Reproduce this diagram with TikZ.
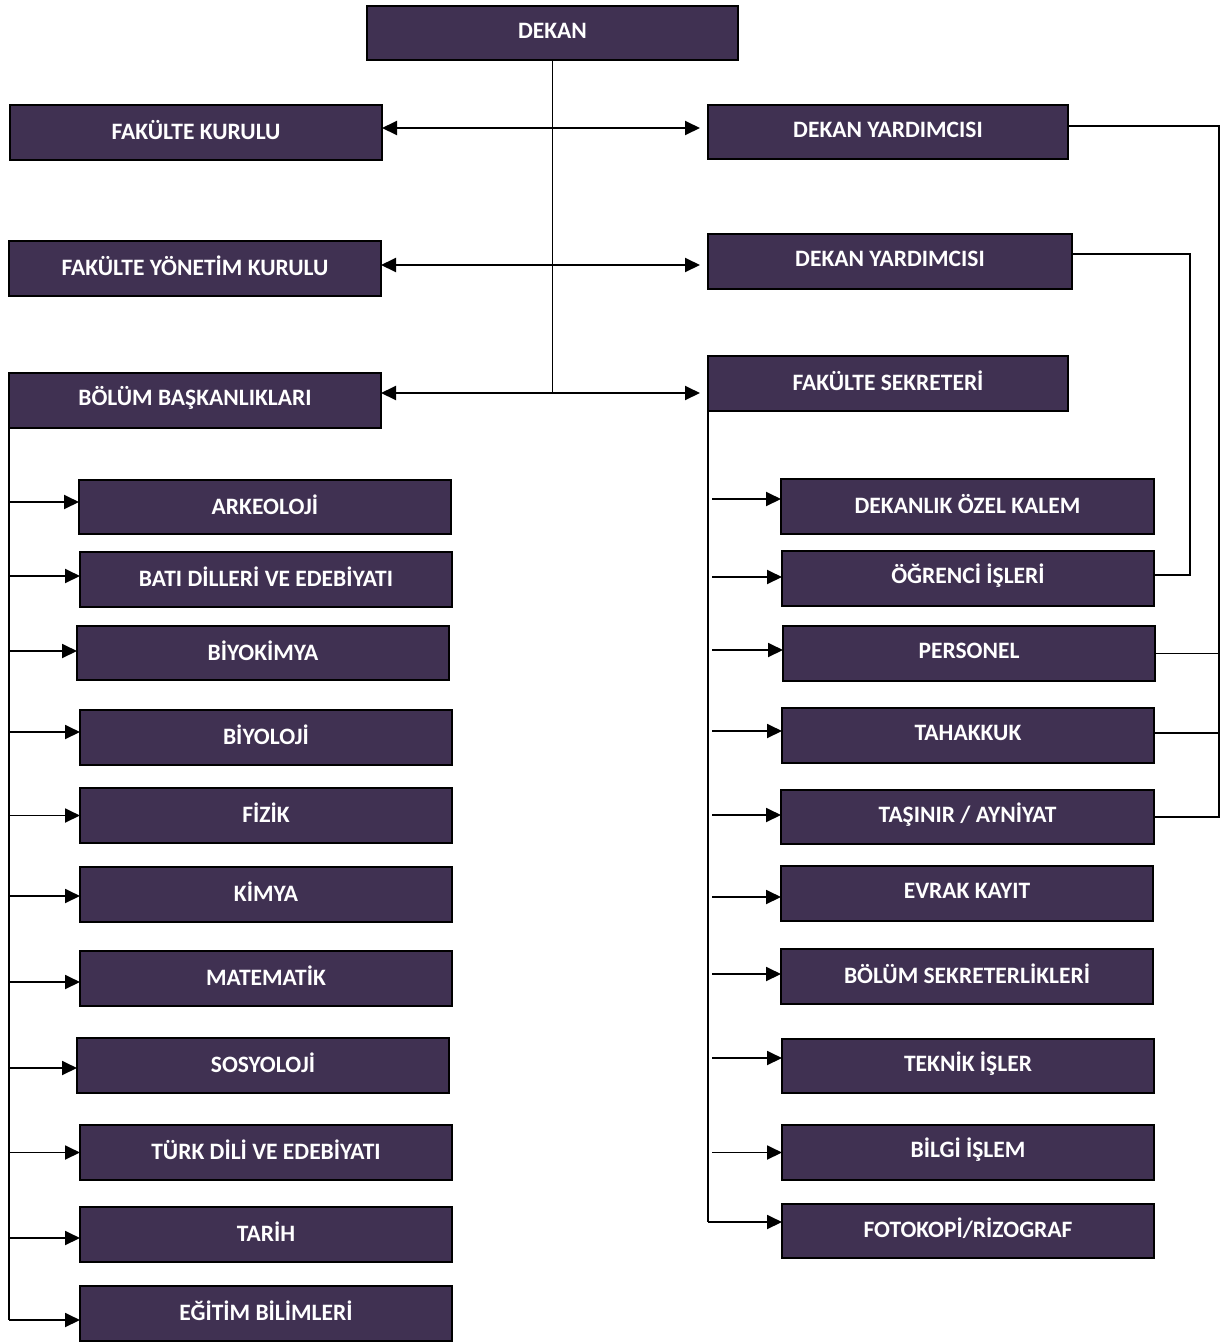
\documentclass[tikz,border=0pt]{standalone}
\usepackage{fontspec}
\setmainfont{Carlito}
\usetikzlibrary{arrows.meta,calc}
\definecolor{boxfill}{RGB}{64,49,82}
\tikzset{
  box/.style={draw=black, line width=2pt, fill=boxfill, text=white,
    font=\fontsize{23.5}{28}\selectfont\bfseries, inner sep=0pt, outer sep=0pt},
  conn/.style={line width=1.9pt, draw=black},
  arr/.style={conn, -{Triangle[length=15pt,width=14pt]}},
  darr/.style={conn, {Triangle[length=15pt,width=14pt]}-{Triangle[length=15pt,width=14pt]}}
}
\newcommand{\bx}[6]{\node[box, minimum width={#4pt-#2pt}, minimum height={#5pt-#3pt}] (#1) at ({(#2+#4)/2},{(#3+#5)/2}) {\raisebox{2.5pt}[\height][\depth]{#6}};}
\begin{document}
\begin{tikzpicture}[x=1pt,y=-1pt]
\useasboundingbox (0,0) rectangle (1232,1342);
% top
\bx{dekan}{367}{6}{738}{60}{DEKAN}
\bx{fk}{10}{105}{382}{160}{FAKÜLTE KURULU}
\bx{dy1}{708}{105}{1068}{159}{DEKAN YARDIMCISI}
\bx{fyk}{9}{241}{381}{296}{FAKÜLTE YÖNETİM KURULU}
\bx{dy2}{708}{234}{1072}{289}{DEKAN YARDIMCISI}
\bx{bolum}{9}{373}{381}{428}{BÖLÜM BAŞKANLIKLARI}
\bx{fs}{708}{356}{1068}{411}{FAKÜLTE SEKRETERİ}
% left list
\bx{ark}{79}{480}{451}{534}{ARKEOLOJİ}
\bx{bati}{80}{552}{452}{607}{BATI DİLLERİ VE EDEBİYATI}
\bx{biyok}{77}{626}{449}{680}{BİYOKİMYA}
\bx{biyo}{80}{710}{452}{765}{BİYOLOJİ}
\bx{fiz}{80}{788}{452}{843}{FİZİK}
\bx{kim}{80}{867}{452}{922}{KİMYA}
\bx{mat}{80}{951}{452}{1006}{MATEMATİK}
\bx{sos}{77}{1038}{449}{1093}{SOSYOLOJİ}
\bx{turk}{80}{1125}{452}{1180}{TÜRK DİLİ VE EDEBİYATI}
\bx{tar}{80}{1207}{452}{1262}{TARİH}
\bx{egi}{80}{1286}{452}{1341}{EĞİTİM BİLİMLERİ}
% right list
\bx{dok}{781}{479}{1154}{534}{DEKANLIK ÖZEL KALEM}
\bx{ogr}{782}{551}{1154}{606}{ÖĞRENCİ İŞLERİ}
\bx{per}{783}{626}{1155}{681}{PERSONEL}
\bx{tah}{782}{708}{1154}{763}{TAHAKKUK}
\bx{tas}{781}{790}{1154}{844}{TAŞINIR / AYNİYAT}
\bx{evr}{781}{866}{1153}{921}{EVRAK KAYIT}
\bx{bsek}{781}{949}{1153}{1004}{BÖLÜM SEKRETERLİKLERİ}
\bx{tek}{782}{1039}{1154}{1093}{TEKNİK İŞLER}
\bx{bil}{782}{1125}{1154}{1180}{BİLGİ İŞLEM}
\bx{foto}{782}{1204}{1154}{1258}{FOTOKOPİ/RİZOGRAF}
% trunk
\coordinate (tb) at ([yshift=7.5pt]bolum.east -| dekan.south);
\draw[conn] (dekan.south) -- (tb);
\draw[darr, shorten >=8pt] ([yshift=4.5pt]fk.east) -- ([yshift=4.5pt]fk.east -| dy1.west);
\draw[darr, shorten >=8pt] ([yshift=3.5pt]fyk.east) -- ([yshift=3.5pt]fyk.east -| dy2.west);
\draw[darr, shorten >=8pt] ([yshift=7.5pt]bolum.east) -- ([yshift=7.5pt]bolum.east -| fs.west);
% left bus
\draw[conn] (bolum.south west) -- ([yshift=-6.5pt]bolum.south west |- egi.west);
\foreach \n/\d in {ark/5,bati/3.5,biyok/2,biyo/5.5,fiz/0,kim/-1.5,mat/-3.5,sos/-2.5,turk/0,tar/-3.5,egi/-6.5}
  \draw[arr] ([yshift=\d pt]bolum.south west |- \n.west) -- ([yshift=\d pt]\n.west);
% right bus
\draw[conn] (fs.south west) -- ([yshift=9pt]fs.south west |- foto.west);
\foreach \n/\d in {dok/7.5,ogr/1.5,per/3.5,tah/4.5,tas/2,evr/-3.5,bsek/2.5,tek/8,bil/0}
  \draw[arr] ([xshift=4pt,yshift=\d pt]fs.south west |- \n.west) -- ([yshift=\d pt]\n.west);
\draw[arr] ([yshift=9pt]fs.south west |- foto.west) -- ([yshift=9pt]foto.west);
% right side connectors
\coordinate (rb1) at (1219,0);
\coordinate (rb2) at (1190,0);
\draw[conn] ([yshift=6pt]dy1.east) -- ([yshift=6pt]dy1.east -| rb1) -- (rb1 |- tas.east) -- (tas.east);
\draw[conn] (per.east) -- (per.east -| rb1);
\draw[conn] ([yshift=2.5pt]tah.east) -- ([yshift=2.5pt]tah.east -| rb1);
\draw[conn] ([yshift=7.5pt]dy2.east) -- ([yshift=7.5pt]dy2.east -| rb2) -- ([yshift=3.5pt]rb2 |- ogr.east) -- ([yshift=3.5pt]ogr.east);
\end{tikzpicture}
\end{document}
